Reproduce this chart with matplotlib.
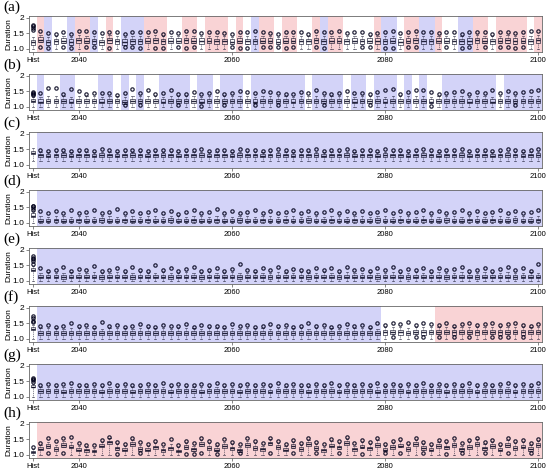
import matplotlib
matplotlib.use("Agg")
import matplotlib.pyplot as plt

# x axis: historical box + 2035..2100
box_labels = ["Hist"] + [str(y) for y in range(2035, 2101)]
tick_labels = ["Hist", "2040", "2060", "2080", "2100"]
panel_names = ["(a)", "(b)", "(c)", "(d)", "(e)", "(f)", "(g)", "(h)"]

# background of each box: W = none, R = pink, B = blue
shade_a = ("WRBWWBRRBW" "RWBBBRRRWW" "RRWRRRWRWB" "RRWRRWWRBR"
           "RWWWWRBBWR" "RBBRWWBBRR" "WRRRRWR")
shade_b = ("WBWWBBWWWB" "BWBWBWWBBB" "BWBBWBBBWB" "BBBBBBWBBB"
           "BWBBWBBBWB" "WBWWBBBBBB" "BWBBBBB")
shade_c = "W" + "B" * 66
shade_d = "W" + "B" * 66
shade_e = "W" + "B" * 66
shade_f = "W" + "B" * 45 + "W" * 7 + "R" * 14
shade_g = "W" + "B" * 66
shade_h = "W" + "R" * 66

# lower whisker end per panel
whisker_floor = [1.0, 1.0, 1.12, 1.0, 1.0, 1.0, 1.0, 1.0]

# stacked outliers of the Hist box
hist_out = [[1.60, 1.66, 1.72, 1.76], [1.36, 1.40, 1.43, 1.46], [],
            [1.42, 1.48, 1.52, 1.55], [1.55, 1.62, 1.68, 1.72, 1.78],
            [1.52, 1.58, 1.65, 1.72], [1.47, 1.52, 1.57, 1.60], [1.25]]

# ---- panel (a)
q1_a = [1.13, 1.20, 1.11, 1.16, 1.17, 1.13, 1.18, 1.18, 1.15, 1.13,
        1.18, 1.16, 1.13, 1.15, 1.14, 1.17, 1.18, 1.16, 1.18, 1.17,
        1.18, 1.17, 1.16, 1.17, 1.16, 1.15, 1.14, 1.17, 1.16, 1.14,
        1.17, 1.17, 1.14, 1.17, 1.17, 1.16, 1.15, 1.18, 1.15, 1.17,
        1.17, 1.15, 1.17, 1.16, 1.17, 1.16, 1.15, 1.17, 1.13, 1.17,
        1.18, 1.15, 1.16, 1.17, 1.17, 1.15, 1.15, 1.16, 1.18, 1.17,
        1.16, 1.17, 1.18, 1.16, 1.17, 1.16, 1.18]
med_a = [1.21, 1.29, 1.20, 1.24, 1.25, 1.22, 1.27, 1.26, 1.24, 1.21,
         1.27, 1.24, 1.22, 1.23, 1.23, 1.26, 1.27, 1.24, 1.26, 1.25,
         1.27, 1.26, 1.25, 1.26, 1.24, 1.23, 1.22, 1.25, 1.24, 1.23,
         1.26, 1.25, 1.22, 1.26, 1.25, 1.24, 1.23, 1.27, 1.24, 1.25,
         1.26, 1.23, 1.25, 1.24, 1.26, 1.25, 1.24, 1.25, 1.22, 1.26,
         1.27, 1.24, 1.24, 1.26, 1.25, 1.23, 1.24, 1.25, 1.27, 1.26,
         1.24, 1.25, 1.27, 1.25, 1.26, 1.24, 1.27]
q3_a = [1.29, 1.37, 1.28, 1.32, 1.33, 1.30, 1.35, 1.34, 1.32, 1.29,
        1.35, 1.32, 1.30, 1.31, 1.31, 1.34, 1.35, 1.32, 1.34, 1.33,
        1.35, 1.34, 1.33, 1.34, 1.32, 1.31, 1.30, 1.33, 1.32, 1.31,
        1.34, 1.33, 1.30, 1.34, 1.33, 1.32, 1.31, 1.35, 1.32, 1.33,
        1.34, 1.31, 1.33, 1.32, 1.34, 1.33, 1.32, 1.33, 1.30, 1.34,
        1.35, 1.32, 1.32, 1.34, 1.33, 1.31, 1.32, 1.33, 1.35, 1.34,
        1.32, 1.33, 1.35, 1.33, 1.34, 1.32, 1.35]
hi_a = [1.37, 1.44, 1.36, 1.40, 1.41, 1.38, 1.43, 1.42, 1.40, 1.37,
        1.43, 1.40, 1.38, 1.39, 1.39, 1.42, 1.43, 1.40, 1.42, 1.41,
        1.43, 1.42, 1.41, 1.42, 1.40, 1.39, 1.38, 1.41, 1.40, 1.39,
        1.42, 1.41, 1.38, 1.42, 1.41, 1.40, 1.39, 1.43, 1.40, 1.41,
        1.42, 1.39, 1.41, 1.40, 1.42, 1.41, 1.40, 1.41, 1.38, 1.42,
        1.43, 1.40, 1.40, 1.42, 1.41, 1.39, 1.40, 1.41, 1.43, 1.42,
        1.40, 1.41, 1.43, 1.41, 1.42, 1.40, 1.43]
up_a = [0, 1.57, 1.49, 1.47, 1.55, 1.48, 1.58, 1.57, 1.52, 1.50,
        1.53, 1.55, 1.48, 1.55, 1.55, 1.52, 1.58, 1.47, 1.55, 1.50,
        1.57, 1.58, 1.50, 1.55, 1.52, 1.50, 1.48, 1.55, 1.52, 1.58,
        1.55, 1.50, 1.47, 1.55, 1.55, 1.52, 1.47, 1.56, 1.52, 1.55,
        1.57, 1.50, 1.52, 1.55, 1.48, 1.50, 1.55, 1.58, 1.50, 1.55,
        1.58, 1.52, 1.55, 1.50, 1.55, 1.52, 1.48, 1.55, 1.52, 1.52,
        1.48, 1.52, 1.55, 1.50, 1.55, 1.57, 1.58]
dn_a = [0, 1.05, 1.02, 0, 1.04, 1.03, 0, 1.04, 1.05, 0,
        1.03, 0, 1.04, 1.04, 1.03, 0, 1.03, 1.02, 0, 1.04,
        1.03, 1.04, 0, 0, 0, 0, 1.05, 1.02, 1.03, 0,
        1.04, 1.04, 1.04, 1.03, 1.04, 0, 0, 1.04, 1.02, 0,
        0, 0, 0, 1.05, 1.04, 0, 1.03, 1.03, 0, 1.04,
        1.04, 0, 0, 0, 1.05, 0, 1.03, 1.04, 0, 1.04,
        0, 1.04, 1.04, 1.03, 1.04, 0, 0]

# ---- panel (b)
q1_b = [1.15, 1.10, 1.11, 1.12, 1.11, 1.10, 1.12, 1.10, 1.11, 1.10,
        1.10, 1.11, 1.09, 1.11, 1.10, 1.12, 1.10, 1.10, 1.10, 1.11,
        1.10, 1.11, 1.10, 1.11, 1.12, 1.10, 1.11, 1.10, 1.11, 1.10,
        1.10, 1.11, 1.10, 1.11, 1.10, 1.11, 1.12, 1.10, 1.11, 1.10,
        1.11, 1.10, 1.10, 1.11, 1.10, 1.11, 1.10, 1.12, 1.11, 1.10,
        1.11, 1.10, 1.10, 1.11, 1.10, 1.10, 1.11, 1.10, 1.11, 1.10,
        1.10, 1.12, 1.11, 1.10, 1.11, 1.10, 1.11]
med_b = [1.19, 1.16, 1.18, 1.19, 1.18, 1.16, 1.19, 1.17, 1.18, 1.16,
         1.17, 1.18, 1.15, 1.18, 1.17, 1.19, 1.17, 1.16, 1.17, 1.18,
         1.17, 1.18, 1.16, 1.18, 1.19, 1.17, 1.18, 1.17, 1.18, 1.16,
         1.17, 1.18, 1.17, 1.18, 1.16, 1.18, 1.19, 1.17, 1.18, 1.17,
         1.18, 1.17, 1.16, 1.18, 1.17, 1.18, 1.16, 1.19, 1.18, 1.17,
         1.18, 1.17, 1.16, 1.18, 1.17, 1.17, 1.18, 1.16, 1.18, 1.17,
         1.16, 1.19, 1.18, 1.17, 1.18, 1.17, 1.18]
q3_b = [1.25, 1.23, 1.25, 1.26, 1.25, 1.23, 1.26, 1.24, 1.25, 1.23,
        1.24, 1.25, 1.22, 1.25, 1.24, 1.26, 1.24, 1.23, 1.24, 1.25,
        1.24, 1.25, 1.23, 1.25, 1.26, 1.24, 1.25, 1.24, 1.25, 1.23,
        1.24, 1.25, 1.24, 1.25, 1.23, 1.25, 1.26, 1.24, 1.25, 1.24,
        1.25, 1.24, 1.23, 1.25, 1.24, 1.25, 1.23, 1.26, 1.25, 1.24,
        1.25, 1.24, 1.23, 1.25, 1.24, 1.24, 1.25, 1.23, 1.25, 1.24,
        1.23, 1.26, 1.25, 1.24, 1.25, 1.24, 1.25]
hi_b = [1.32, 1.31, 1.34, 1.35, 1.34, 1.32, 1.35, 1.33, 1.34, 1.32,
        1.33, 1.34, 1.31, 1.34, 1.33, 1.35, 1.33, 1.32, 1.33, 1.34,
        1.33, 1.34, 1.32, 1.34, 1.35, 1.33, 1.34, 1.33, 1.34, 1.32,
        1.33, 1.34, 1.33, 1.34, 1.32, 1.34, 1.35, 1.33, 1.34, 1.33,
        1.34, 1.33, 1.32, 1.34, 1.33, 1.34, 1.32, 1.35, 1.34, 1.33,
        1.34, 1.33, 1.32, 1.34, 1.33, 1.33, 1.34, 1.32, 1.34, 1.33,
        1.32, 1.35, 1.34, 1.33, 1.34, 1.33, 1.34]
up_b = [0, 1.45, 1.60, 1.60, 1.40, 1.58, 1.50, 1.42, 1.45, 1.45,
        1.45, 1.38, 1.45, 1.58, 1.45, 1.55, 1.42, 1.45, 1.52, 1.42,
        1.40, 1.48, 1.42, 1.45, 1.50, 1.42, 1.45, 1.50, 1.48, 1.45,
        1.50, 1.48, 1.45, 1.42, 1.42, 1.48, 1.45, 1.52, 1.45, 1.42,
        1.45, 1.50, 1.45, 1.45, 1.42, 1.48, 1.55, 1.58, 1.42, 1.48,
        1.55, 1.52, 1.48, 1.42, 1.45, 1.48, 1.50, 1.42, 1.48, 1.45,
        1.52, 1.45, 1.50, 1.45, 1.48, 1.50, 1.55]
dn_b = [0, 0, 0, 0, 0, 0, 0, 0, 0, 0,
        0, 0, 1.04, 0, 1.05, 0, 0, 0, 0, 1.05,
        0, 0, 1.03, 0, 0, 1.04, 0, 0, 0, 1.04,
        0, 0, 1.05, 0, 0, 0, 0, 0, 1.04, 0,
        0, 0, 0, 0, 1.05, 0, 0, 0, 0, 0,
        0, 0, 1.03, 0, 0, 0, 0, 0, 0, 0,
        0, 0, 0, 1.04, 0, 0, 0]

# ---- panel (c)
q1_c = [1.33, 1.25, 1.24, 1.25, 1.26, 1.24, 1.25, 1.25, 1.24, 1.26,
        1.25, 1.24, 1.25, 1.26, 1.25, 1.24, 1.25, 1.26, 1.25, 1.24,
        1.25, 1.25, 1.26, 1.24, 1.25, 1.25, 1.24, 1.26, 1.25, 1.25,
        1.24, 1.25, 1.26, 1.25, 1.24, 1.25, 1.25, 1.26, 1.24, 1.25,
        1.25, 1.26, 1.24, 1.25, 1.25, 1.24, 1.26, 1.25, 1.25, 1.24,
        1.25, 1.26, 1.25, 1.24, 1.25, 1.25, 1.26, 1.24, 1.25, 1.25,
        1.24, 1.25, 1.26, 1.25, 1.24, 1.25, 1.26]
med_c = [1.38, 1.30, 1.29, 1.30, 1.31, 1.29, 1.30, 1.30, 1.29, 1.31,
         1.30, 1.29, 1.30, 1.31, 1.30, 1.29, 1.30, 1.31, 1.30, 1.29,
         1.30, 1.30, 1.31, 1.29, 1.30, 1.30, 1.29, 1.31, 1.30, 1.30,
         1.29, 1.30, 1.31, 1.30, 1.29, 1.30, 1.30, 1.31, 1.29, 1.30,
         1.30, 1.31, 1.29, 1.30, 1.30, 1.29, 1.31, 1.30, 1.30, 1.29,
         1.30, 1.31, 1.30, 1.29, 1.30, 1.30, 1.31, 1.29, 1.30, 1.30,
         1.29, 1.30, 1.31, 1.30, 1.29, 1.30, 1.31]
q3_c = [1.45, 1.35, 1.34, 1.35, 1.36, 1.34, 1.35, 1.35, 1.34, 1.36,
        1.35, 1.34, 1.35, 1.36, 1.35, 1.34, 1.35, 1.36, 1.35, 1.34,
        1.35, 1.35, 1.36, 1.34, 1.35, 1.35, 1.34, 1.36, 1.35, 1.35,
        1.34, 1.35, 1.36, 1.35, 1.34, 1.35, 1.35, 1.36, 1.34, 1.35,
        1.35, 1.36, 1.34, 1.35, 1.35, 1.34, 1.36, 1.35, 1.35, 1.34,
        1.35, 1.36, 1.35, 1.34, 1.35, 1.35, 1.36, 1.34, 1.35, 1.35,
        1.34, 1.35, 1.36, 1.35, 1.34, 1.35, 1.36]
hi_c = [1.52, 1.41, 1.40, 1.41, 1.42, 1.40, 1.41, 1.41, 1.40, 1.42,
        1.41, 1.40, 1.41, 1.42, 1.41, 1.40, 1.41, 1.42, 1.41, 1.40,
        1.41, 1.41, 1.42, 1.40, 1.41, 1.41, 1.40, 1.42, 1.41, 1.41,
        1.40, 1.41, 1.42, 1.41, 1.40, 1.41, 1.41, 1.42, 1.40, 1.41,
        1.41, 1.42, 1.40, 1.41, 1.41, 1.40, 1.42, 1.41, 1.41, 1.40,
        1.41, 1.42, 1.41, 1.40, 1.41, 1.41, 1.42, 1.40, 1.41, 1.41,
        1.40, 1.41, 1.42, 1.41, 1.40, 1.41, 1.42]
up_c = [0, 1.46, 1.45, 1.47, 1.48, 1.45, 1.46, 1.48, 1.45, 1.50,
        1.46, 1.45, 1.47, 1.48, 1.46, 1.45, 1.47, 1.48, 1.46, 1.45,
        1.48, 1.46, 1.50, 1.45, 1.46, 1.47, 1.45, 1.50, 1.46, 1.47,
        1.45, 1.46, 1.50, 1.47, 1.45, 1.46, 1.47, 1.50, 1.45, 1.46,
        1.47, 1.50, 1.45, 1.46, 1.47, 1.45, 1.50, 1.46, 1.47, 1.45,
        1.46, 1.50, 1.47, 1.45, 1.46, 1.47, 1.50, 1.45, 1.46, 1.47,
        1.45, 1.46, 1.50, 1.47, 1.45, 1.46, 1.50]
dn_c = [0] * 67

# ---- panel (d)
q1_d = [1.18, 1.01, 1.01, 1.02, 1.01, 1.01, 1.02, 1.01, 1.01, 1.02,
        1.01, 1.01, 1.02, 1.01, 1.01, 1.02, 1.01, 1.01, 1.02, 1.01,
        1.01, 1.02, 1.01, 1.01, 1.02, 1.01, 1.01, 1.02, 1.01, 1.01,
        1.02, 1.01, 1.01, 1.02, 1.01, 1.01, 1.02, 1.01, 1.01, 1.02,
        1.01, 1.01, 1.02, 1.01, 1.01, 1.02, 1.01, 1.01, 1.02, 1.01,
        1.01, 1.02, 1.01, 1.01, 1.02, 1.01, 1.01, 1.02, 1.01, 1.01,
        1.02, 1.01, 1.01, 1.02, 1.01, 1.01, 1.02]
med_d = [1.22, 1.06, 1.05, 1.07, 1.06, 1.05, 1.07, 1.06, 1.05, 1.08,
         1.06, 1.05, 1.07, 1.06, 1.05, 1.07, 1.06, 1.05, 1.08, 1.06,
         1.05, 1.07, 1.06, 1.05, 1.07, 1.06, 1.05, 1.08, 1.06, 1.05,
         1.07, 1.06, 1.05, 1.07, 1.06, 1.05, 1.08, 1.06, 1.05, 1.07,
         1.06, 1.05, 1.07, 1.06, 1.05, 1.08, 1.06, 1.05, 1.07, 1.06,
         1.05, 1.07, 1.06, 1.05, 1.08, 1.06, 1.05, 1.07, 1.06, 1.05,
         1.07, 1.06, 1.05, 1.08, 1.06, 1.05, 1.07]
q3_d = [1.30, 1.12, 1.11, 1.13, 1.12, 1.11, 1.13, 1.12, 1.11, 1.14,
        1.12, 1.11, 1.13, 1.12, 1.11, 1.13, 1.12, 1.11, 1.14, 1.12,
        1.11, 1.13, 1.12, 1.11, 1.13, 1.12, 1.11, 1.14, 1.12, 1.11,
        1.13, 1.12, 1.11, 1.13, 1.12, 1.11, 1.14, 1.12, 1.11, 1.13,
        1.12, 1.11, 1.13, 1.12, 1.11, 1.14, 1.12, 1.11, 1.13, 1.12,
        1.11, 1.13, 1.12, 1.11, 1.14, 1.12, 1.11, 1.13, 1.12, 1.11,
        1.13, 1.12, 1.11, 1.14, 1.12, 1.11, 1.13]
hi_d = [1.36, 1.20, 1.18, 1.21, 1.20, 1.18, 1.21, 1.20, 1.18, 1.22,
        1.20, 1.18, 1.21, 1.20, 1.18, 1.21, 1.20, 1.18, 1.22, 1.20,
        1.18, 1.21, 1.20, 1.18, 1.21, 1.20, 1.18, 1.22, 1.20, 1.18,
        1.21, 1.20, 1.18, 1.21, 1.20, 1.18, 1.22, 1.20, 1.18, 1.21,
        1.20, 1.18, 1.21, 1.20, 1.18, 1.22, 1.20, 1.18, 1.21, 1.20,
        1.18, 1.21, 1.20, 1.18, 1.22, 1.20, 1.18, 1.21, 1.20, 1.18,
        1.21, 1.20, 1.18, 1.22, 1.20, 1.18, 1.21]
up_d = [0, 1.36, 1.30, 1.38, 1.30, 1.42, 1.32, 1.35, 1.40, 1.30,
        1.35, 1.45, 1.32, 1.38, 1.30, 1.35, 1.40, 1.32, 1.36, 1.28,
        1.35, 1.42, 1.30, 1.35, 1.45, 1.32, 1.38, 1.30, 1.35, 1.40,
        1.32, 1.36, 1.30, 1.35, 1.42, 1.30, 1.38, 1.32, 1.35, 1.40,
        1.30, 1.36, 1.32, 1.38, 1.30, 1.35, 1.42, 1.32, 1.36, 1.30,
        1.35, 1.40, 1.32, 1.38, 1.30, 1.35, 1.42, 1.32, 1.36, 1.30,
        1.35, 1.40, 1.32, 1.38, 1.30, 1.35, 1.42]
dn_d = [0] * 67

# ---- panel (e)
q1_e = [1.30, 1.07, 1.08, 1.07, 1.06, 1.08, 1.07, 1.07, 1.08, 1.06,
        1.07, 1.08, 1.07, 1.06, 1.08, 1.07, 1.07, 1.08, 1.06, 1.07,
        1.08, 1.07, 1.06, 1.08, 1.07, 1.07, 1.08, 1.06, 1.07, 1.08,
        1.07, 1.06, 1.08, 1.07, 1.07, 1.08, 1.06, 1.07, 1.08, 1.07,
        1.06, 1.08, 1.07, 1.07, 1.08, 1.06, 1.07, 1.08, 1.07, 1.06,
        1.08, 1.07, 1.07, 1.08, 1.06, 1.07, 1.08, 1.07, 1.06, 1.08,
        1.07, 1.07, 1.08, 1.06, 1.07, 1.08, 1.07]
med_e = [1.34, 1.12, 1.13, 1.12, 1.11, 1.13, 1.12, 1.12, 1.13, 1.11,
         1.12, 1.13, 1.12, 1.11, 1.13, 1.12, 1.12, 1.13, 1.11, 1.12,
         1.13, 1.12, 1.11, 1.13, 1.12, 1.12, 1.13, 1.11, 1.12, 1.13,
         1.12, 1.11, 1.13, 1.12, 1.12, 1.13, 1.11, 1.12, 1.13, 1.12,
         1.11, 1.13, 1.12, 1.12, 1.13, 1.11, 1.12, 1.13, 1.12, 1.11,
         1.13, 1.12, 1.12, 1.13, 1.11, 1.12, 1.13, 1.12, 1.11, 1.13,
         1.12, 1.12, 1.13, 1.11, 1.12, 1.13, 1.12]
q3_e = [1.40, 1.18, 1.19, 1.18, 1.17, 1.19, 1.18, 1.18, 1.19, 1.17,
        1.18, 1.19, 1.18, 1.17, 1.19, 1.18, 1.18, 1.19, 1.17, 1.18,
        1.19, 1.18, 1.17, 1.19, 1.18, 1.18, 1.19, 1.17, 1.18, 1.19,
        1.18, 1.17, 1.19, 1.18, 1.18, 1.19, 1.17, 1.18, 1.19, 1.18,
        1.17, 1.19, 1.18, 1.18, 1.19, 1.17, 1.18, 1.19, 1.18, 1.17,
        1.19, 1.18, 1.18, 1.19, 1.17, 1.18, 1.19, 1.18, 1.17, 1.19,
        1.18, 1.18, 1.19, 1.17, 1.18, 1.19, 1.18]
hi_e = [1.48, 1.26, 1.27, 1.26, 1.25, 1.27, 1.26, 1.26, 1.27, 1.25,
        1.26, 1.27, 1.26, 1.25, 1.27, 1.26, 1.26, 1.27, 1.25, 1.26,
        1.27, 1.26, 1.25, 1.27, 1.26, 1.26, 1.27, 1.25, 1.26, 1.27,
        1.26, 1.25, 1.27, 1.26, 1.26, 1.27, 1.25, 1.26, 1.27, 1.26,
        1.25, 1.27, 1.26, 1.26, 1.27, 1.25, 1.26, 1.27, 1.26, 1.25,
        1.27, 1.26, 1.26, 1.27, 1.25, 1.26, 1.27, 1.26, 1.25, 1.27,
        1.26, 1.26, 1.27, 1.25, 1.26, 1.27, 1.26]
up_e = [0, 1.40, 1.32, 1.35, 1.45, 1.32, 1.38, 1.35, 1.48, 1.32,
        1.35, 1.40, 1.32, 1.45, 1.35, 1.32, 1.50, 1.35, 1.40, 1.32,
        1.38, 1.45, 1.32, 1.35, 1.42, 1.32, 1.38, 1.55, 1.35, 1.32,
        1.40, 1.35, 1.45, 1.32, 1.38, 1.35, 1.32, 1.42, 1.35, 1.40,
        1.32, 1.45, 1.35, 1.38, 1.32, 1.40, 1.35, 1.45, 1.32, 1.38,
        1.35, 1.42, 1.32, 1.40, 1.35, 1.38, 1.45, 1.32, 1.35, 1.40,
        1.32, 1.38, 1.45, 1.35, 1.40, 1.32, 1.55]
dn_e = [0] * 67

# ---- panel (f)
q1_f = [1.28, 1.12, 1.13, 1.12, 1.11, 1.13, 1.12, 1.12, 1.13, 1.11,
        1.12, 1.13, 1.12, 1.11, 1.13, 1.12, 1.12, 1.13, 1.11, 1.12,
        1.13, 1.12, 1.11, 1.13, 1.12, 1.12, 1.13, 1.11, 1.12, 1.13,
        1.12, 1.11, 1.13, 1.12, 1.12, 1.13, 1.11, 1.12, 1.13, 1.12,
        1.11, 1.13, 1.12, 1.12, 1.13, 1.11, 1.13, 1.14, 1.13, 1.12,
        1.14, 1.13, 1.14, 1.15, 1.14, 1.13, 1.15, 1.14, 1.13, 1.15,
        1.14, 1.13, 1.15, 1.14, 1.13, 1.15, 1.14]
med_f = [1.32, 1.18, 1.19, 1.18, 1.17, 1.19, 1.18, 1.18, 1.19, 1.17,
         1.18, 1.19, 1.18, 1.17, 1.19, 1.18, 1.18, 1.19, 1.17, 1.18,
         1.19, 1.18, 1.17, 1.19, 1.18, 1.18, 1.19, 1.17, 1.18, 1.19,
         1.18, 1.17, 1.19, 1.18, 1.18, 1.19, 1.17, 1.18, 1.19, 1.18,
         1.17, 1.19, 1.18, 1.18, 1.19, 1.17, 1.20, 1.21, 1.20, 1.19,
         1.21, 1.20, 1.21, 1.22, 1.21, 1.20, 1.22, 1.21, 1.20, 1.22,
         1.21, 1.20, 1.22, 1.21, 1.20, 1.22, 1.21]
q3_f = [1.38, 1.25, 1.26, 1.25, 1.24, 1.26, 1.25, 1.25, 1.26, 1.24,
        1.25, 1.26, 1.25, 1.24, 1.26, 1.25, 1.25, 1.26, 1.24, 1.25,
        1.26, 1.25, 1.24, 1.26, 1.25, 1.25, 1.26, 1.24, 1.25, 1.26,
        1.25, 1.24, 1.26, 1.25, 1.25, 1.26, 1.24, 1.25, 1.26, 1.25,
        1.24, 1.26, 1.25, 1.25, 1.26, 1.24, 1.27, 1.28, 1.27, 1.26,
        1.28, 1.27, 1.28, 1.29, 1.28, 1.27, 1.29, 1.28, 1.27, 1.29,
        1.28, 1.27, 1.29, 1.28, 1.27, 1.29, 1.28]
hi_f = [1.45, 1.33, 1.34, 1.33, 1.32, 1.34, 1.33, 1.33, 1.34, 1.32,
        1.33, 1.34, 1.33, 1.32, 1.34, 1.33, 1.33, 1.34, 1.32, 1.33,
        1.34, 1.33, 1.32, 1.34, 1.33, 1.33, 1.34, 1.32, 1.33, 1.34,
        1.33, 1.32, 1.34, 1.33, 1.33, 1.34, 1.32, 1.33, 1.34, 1.33,
        1.32, 1.34, 1.33, 1.33, 1.34, 1.32, 1.36, 1.37, 1.36, 1.35,
        1.37, 1.36, 1.37, 1.38, 1.37, 1.36, 1.38, 1.37, 1.36, 1.38,
        1.37, 1.36, 1.38, 1.37, 1.36, 1.38, 1.37]
up_f = [0, 1.40, 1.45, 1.38, 1.42, 1.50, 1.40, 1.45, 1.38, 1.52,
        1.40, 1.45, 1.38, 1.42, 1.48, 1.40, 1.38, 1.45, 1.42, 1.40,
        1.48, 1.38, 1.45, 1.40, 1.42, 1.38, 1.48, 1.40, 1.45, 1.38,
        1.42, 1.48, 1.40, 1.45, 1.38, 1.42, 1.50, 1.40, 1.45, 1.38,
        1.42, 1.48, 1.40, 1.45, 1.38, 1.50, 1.45, 1.50, 1.48, 1.52,
        1.45, 1.50, 1.48, 1.45, 1.50, 1.42, 1.48, 1.50, 1.45, 1.48,
        1.50, 1.45, 1.48, 1.50, 1.45, 1.42, 1.48]
dn_f = [0, 0, 0, 0, 0, 0, 0, 0, 0, 0,
        0, 0, 0, 0, 0, 0, 0, 0, 0, 0,
        0, 0, 0, 0, 0, 0, 0, 0, 0, 0,
        0, 0, 0, 0, 0, 0, 0, 0, 0, 0,
        0, 0, 0, 0, 0, 0, 0, 1.05, 0, 0,
        1.04, 1.05, 0, 1.04, 0, 1.05, 0, 1.04, 0, 0,
        1.05, 1.04, 1.05, 0, 1.04, 0, 0]

# ---- panel (g)
q1_g = [1.30, 1.12, 1.13, 1.12, 1.11, 1.13, 1.12, 1.12, 1.13, 1.11,
        1.12, 1.13, 1.12, 1.11, 1.13, 1.12, 1.12, 1.13, 1.11, 1.12,
        1.13, 1.12, 1.11, 1.13, 1.12, 1.12, 1.13, 1.11, 1.12, 1.13,
        1.12, 1.11, 1.13, 1.12, 1.12, 1.13, 1.11, 1.12, 1.13, 1.12,
        1.11, 1.13, 1.12, 1.12, 1.13, 1.11, 1.12, 1.13, 1.12, 1.11,
        1.13, 1.12, 1.12, 1.13, 1.11, 1.12, 1.13, 1.12, 1.11, 1.13,
        1.12, 1.12, 1.13, 1.11, 1.12, 1.13, 1.12]
med_g = [1.32, 1.17, 1.18, 1.17, 1.16, 1.18, 1.17, 1.17, 1.18, 1.16,
         1.17, 1.18, 1.17, 1.16, 1.18, 1.17, 1.17, 1.18, 1.16, 1.17,
         1.18, 1.17, 1.16, 1.18, 1.17, 1.17, 1.18, 1.16, 1.17, 1.18,
         1.17, 1.16, 1.18, 1.17, 1.17, 1.18, 1.16, 1.17, 1.18, 1.17,
         1.16, 1.18, 1.17, 1.17, 1.18, 1.16, 1.17, 1.18, 1.17, 1.16,
         1.18, 1.17, 1.17, 1.18, 1.16, 1.17, 1.18, 1.17, 1.16, 1.18,
         1.17, 1.17, 1.18, 1.16, 1.17, 1.18, 1.17]
q3_g = [1.37, 1.23, 1.24, 1.23, 1.22, 1.24, 1.23, 1.23, 1.24, 1.22,
        1.23, 1.24, 1.23, 1.22, 1.24, 1.23, 1.23, 1.24, 1.22, 1.23,
        1.24, 1.23, 1.22, 1.24, 1.23, 1.23, 1.24, 1.22, 1.23, 1.24,
        1.23, 1.22, 1.24, 1.23, 1.23, 1.24, 1.22, 1.23, 1.24, 1.23,
        1.22, 1.24, 1.23, 1.23, 1.24, 1.22, 1.23, 1.24, 1.23, 1.22,
        1.24, 1.23, 1.23, 1.24, 1.22, 1.23, 1.24, 1.23, 1.22, 1.24,
        1.23, 1.23, 1.24, 1.22, 1.23, 1.24, 1.23]
hi_g = [1.42, 1.31, 1.32, 1.31, 1.30, 1.32, 1.31, 1.31, 1.32, 1.30,
        1.31, 1.32, 1.31, 1.30, 1.32, 1.31, 1.31, 1.32, 1.30, 1.31,
        1.32, 1.31, 1.30, 1.32, 1.31, 1.31, 1.32, 1.30, 1.31, 1.32,
        1.31, 1.30, 1.32, 1.31, 1.31, 1.32, 1.30, 1.31, 1.32, 1.31,
        1.30, 1.32, 1.31, 1.31, 1.32, 1.30, 1.31, 1.32, 1.31, 1.30,
        1.32, 1.31, 1.31, 1.32, 1.30, 1.31, 1.32, 1.31, 1.30, 1.32,
        1.31, 1.31, 1.32, 1.30, 1.31, 1.32, 1.31]
up_g = [0, 1.38, 1.42, 1.36, 1.40, 1.45, 1.38, 1.36, 1.42, 1.38,
        1.45, 1.36, 1.40, 1.38, 1.36, 1.42, 1.38, 1.45, 1.36, 1.40,
        1.38, 1.36, 1.42, 1.38, 1.45, 1.36, 1.40, 1.38, 1.42, 1.36,
        1.40, 1.38, 1.45, 1.36, 1.42, 1.38, 1.36, 1.40, 1.38, 1.45,
        1.36, 1.42, 1.38, 1.40, 1.36, 1.45, 1.38, 1.42, 1.36, 1.40,
        1.38, 1.45, 1.36, 1.42, 1.38, 1.40, 1.36, 1.45, 1.38, 1.42,
        1.36, 1.40, 1.45, 1.38, 1.42, 1.36, 1.45]
dn_g = [0] * 67

# ---- panel (h)
q1_h = [1.05, 1.14, 1.21, 1.13, 1.24, 1.20, 1.11, 1.09, 1.07, 1.23,
        1.33, 1.14, 1.11, 1.29, 1.11, 1.11, 1.17, 1.09, 1.14, 1.07,
        1.19, 1.12, 1.27, 1.16, 1.10, 1.22, 1.14, 1.09, 1.25, 1.16,
        1.12, 1.30, 1.18, 1.10, 1.21, 1.13, 1.27, 1.15, 1.09, 1.23,
        1.17, 1.31, 1.12, 1.20, 1.14, 1.26, 1.10, 1.18, 1.23, 1.13,
        1.28, 1.15, 1.11, 1.21, 1.17, 1.25, 1.12, 1.19, 1.29, 1.14,
        1.22, 1.10, 1.26, 1.16, 1.20, 1.13, 1.24]
med_h = [1.08, 1.19, 1.27, 1.18, 1.30, 1.26, 1.16, 1.14, 1.11, 1.29,
         1.39, 1.20, 1.16, 1.34, 1.17, 1.16, 1.23, 1.14, 1.20, 1.12,
         1.24, 1.17, 1.33, 1.22, 1.15, 1.28, 1.20, 1.14, 1.31, 1.22,
         1.17, 1.36, 1.24, 1.15, 1.27, 1.18, 1.33, 1.21, 1.14, 1.29,
         1.23, 1.37, 1.17, 1.26, 1.20, 1.32, 1.15, 1.24, 1.29, 1.18,
         1.34, 1.21, 1.16, 1.27, 1.23, 1.31, 1.17, 1.25, 1.35, 1.20,
         1.28, 1.15, 1.32, 1.22, 1.26, 1.18, 1.30]
q3_h = [1.12, 1.23, 1.33, 1.23, 1.36, 1.32, 1.21, 1.19, 1.15, 1.34,
        1.45, 1.26, 1.21, 1.39, 1.23, 1.21, 1.29, 1.19, 1.26, 1.16,
        1.30, 1.22, 1.39, 1.28, 1.20, 1.34, 1.26, 1.19, 1.37, 1.28,
        1.22, 1.42, 1.30, 1.20, 1.33, 1.23, 1.39, 1.27, 1.19, 1.35,
        1.29, 1.43, 1.22, 1.32, 1.26, 1.38, 1.20, 1.30, 1.35, 1.23,
        1.40, 1.27, 1.21, 1.33, 1.29, 1.37, 1.22, 1.31, 1.41, 1.26,
        1.34, 1.20, 1.38, 1.28, 1.32, 1.23, 1.36]
hi_h = [1.18, 1.31, 1.42, 1.30, 1.45, 1.40, 1.28, 1.26, 1.22, 1.42,
        1.52, 1.34, 1.28, 1.47, 1.30, 1.28, 1.37, 1.26, 1.34, 1.23,
        1.38, 1.29, 1.47, 1.36, 1.27, 1.42, 1.34, 1.26, 1.45, 1.36,
        1.29, 1.50, 1.38, 1.27, 1.41, 1.30, 1.47, 1.35, 1.26, 1.43,
        1.37, 1.51, 1.29, 1.40, 1.34, 1.46, 1.27, 1.38, 1.43, 1.30,
        1.48, 1.35, 1.28, 1.41, 1.37, 1.45, 1.29, 1.39, 1.49, 1.34,
        1.42, 1.27, 1.46, 1.36, 1.40, 1.30, 1.44]
up_h = [0, 1.38, 1.55, 1.45, 1.52, 1.56, 1.38, 1.32, 1.30, 1.48,
        1.58, 1.42, 1.35, 1.52, 1.40, 1.35, 1.45, 1.33, 1.50, 1.30,
        1.45, 1.36, 1.52, 1.44, 1.35, 1.50, 1.42, 1.33, 1.52, 1.45,
        1.36, 1.55, 1.45, 1.34, 1.48, 1.38, 1.53, 1.42, 1.33, 1.50,
        1.44, 1.56, 1.36, 1.47, 1.42, 1.52, 1.35, 1.45, 1.50, 1.37,
        1.55, 1.42, 1.35, 1.48, 1.44, 1.52, 1.36, 1.46, 1.55, 1.42,
        1.48, 1.34, 1.52, 1.44, 1.47, 1.38, 1.50]
dn_h = [0, 0, 1.04, 0, 1.05, 0, 0, 0, 0, 0,
        0, 1.03, 0, 0, 1.04, 0, 0, 0, 0, 0,
        1.03, 1.02, 1.05, 0, 1.03, 0, 0, 1.04, 0, 0,
        0, 1.04, 0, 0, 1.05, 0, 0, 1.04, 0, 0,
        1.04, 0, 0, 1.03, 0, 0, 1.04, 0, 1.05, 0,
        0, 1.04, 0, 0, 1.03, 0, 1.04, 0, 0, 1.05,
        0, 0, 1.04, 0, 0, 1.05, 0]

panels = [
    (shade_a, q1_a, med_a, q3_a, hi_a, up_a, dn_a),
    (shade_b, q1_b, med_b, q3_b, hi_b, up_b, dn_b),
    (shade_c, q1_c, med_c, q3_c, hi_c, up_c, dn_c),
    (shade_d, q1_d, med_d, q3_d, hi_d, up_d, dn_d),
    (shade_e, q1_e, med_e, q3_e, hi_e, up_e, dn_e),
    (shade_f, q1_f, med_f, q3_f, hi_f, up_f, dn_f),
    (shade_g, q1_g, med_g, q3_g, hi_g, up_g, dn_g),
    (shade_h, q1_h, med_h, q3_h, hi_h, up_h, dn_h),
]

shade_colors = {"R": "#f9d3d5", "B": "#d3d3f8", "W": None}
ink = (0.05, 0.05, 0.15, 0.6)
ink_dark = (0.0, 0.0, 0.1, 0.85)

W, H = 550, 474
fig = plt.figure(figsize=(W / 100, H / 100), dpi=100)

positions = list(range(1, len(box_labels) + 1))
tick_pos = [positions[box_labels.index(t)] for t in tick_labels]

for i, (shade, q1, med, q3, hi, up, dn) in enumerate(panels):
    top = 16 + 58 * i
    ax = fig.add_axes([29 / W, 1 - (top + 36) / H, 513 / W, 36 / H])

    for k, code in enumerate(shade):
        c = shade_colors[code]
        if c:
            ax.axvspan(positions[k] - 0.5, positions[k] + 0.5, color=c, lw=0, zorder=0)

    stats = []
    for k in range(len(positions)):
        fl = []
        if k == 0:
            fl += hist_out[i]
        elif up[k]:
            fl.append(up[k])
        lo = whisker_floor[i]
        if dn[k]:
            fl.append(dn[k])
            lo = q1[k]
        stats.append(dict(q1=q1[k], med=med[k], q3=q3[k],
                          whislo=min(lo, q1[k]), whishi=hi[k], fliers=fl))

    ax.bxp(stats, positions=positions, widths=0.6, showfliers=True,
           boxprops=dict(color=ink, lw=0.7),
           whiskerprops=dict(color=ink, lw=0.6, linestyle=(0, (1.2, 1.0))),
           capprops=dict(color=ink, lw=0.6),
           medianprops=dict(color=ink_dark, lw=1.0),
           flierprops=dict(marker="o", markersize=2.4, markerfacecolor="none",
                           markeredgecolor=ink_dark, markeredgewidth=0.9))

    ax.set_xlim(0.5, len(positions) + 0.5)
    ax.set_ylim(0.89, 2.05)
    ax.set_yticks([1.0, 1.5, 2.0])
    ax.set_yticklabels(["1.0", "1.5", "2"], fontsize=6, family="Liberation Sans")
    ax.set_xticks(tick_pos)
    ax.set_xticklabels(tick_labels, fontsize=5.5, family="Liberation Sans")
    ax.tick_params(axis="both", length=2.5, width=0.5, color="#555555", pad=1.2)
    for s in ax.spines.values():
        s.set_color("#666666")
        s.set_linewidth(0.6)

    fig.text(3 / W, 1 - (7 + 58 * i) / H, panel_names[i], fontsize=11,
             family="Liberation Serif", va="center", ha="left")
    fig.text(9 / W, 1 - (top + 18) / H, "Duration", rotation=90, fontsize=6,
             family="Liberation Sans", va="center", ha="center")

fig.savefig("out.png", dpi=100)
